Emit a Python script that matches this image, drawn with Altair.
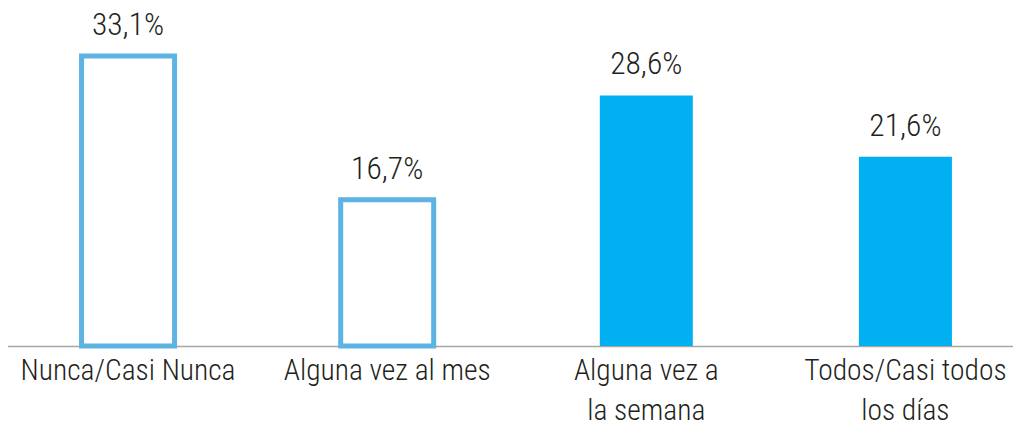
import altair as alt
import pandas as pd

categorias = ["Nunca/Casi Nunca", "Alguna vez al mes", "Alguna vez a\nla semana", "Todos/Casi todos\nlos días"]
valores = [33.1, 16.7, 28.6, 21.6]
etiquetas = ["33,1%", "16,7%", "28,6%", "21,6%"]
grupo = ["baja", "baja", "alta", "alta"]

df = pd.DataFrame({"cat": categorias, "valor": valores, "etiqueta": etiquetas, "grupo": grupo})

FONT = "Roboto Condensed, Roboto, sans-serif"
TXT = "#231F20"

x = alt.X("cat:N", sort=categorias, title=None,
          scale=alt.Scale(range=[-19.5, 1017], paddingInner=0, paddingOuter=0),
          axis=alt.Axis(labelAngle=0, ticks=False, domainColor="#A6A6A6", domainWidth=1.5,
                        labelFont=FONT, labelFontSize=29.5, labelFontWeight=300, labelColor=TXT,
                        labelPadding=10, labelLimit=0, labelLineHeight=40,
                        labelExpr="split(datum.label, '\\n')"))
y = alt.Y("valor:Q", title=None, axis=None, scale=alt.Scale(domain=[0, 38.58], nice=False))

base = alt.Chart(df)

hueco = base.transform_filter(alt.datum.grupo == "baja").mark_bar(
    size=93, fill="white", stroke="#5DB3E4", strokeWidth=5).encode(x=x, y=y)
lleno = base.transform_filter(alt.datum.grupo == "alta").mark_bar(
    size=93, color="#00B0F0").encode(x=x, y=y)
texto = base.mark_text(font=FONT, fontSize=31.5, fontWeight=300, color=TXT,
                       baseline="alphabetic", dy=-21).encode(
    x=x, y=y, text="etiqueta:N")

chart = alt.layer(hueco, lleno, texto).properties(
    width=985, height=338,
    autosize=alt.AutoSizeParams(type="none"),
    padding={"left": 10, "top": 0, "right": 10, "bottom": 83},
).configure_view(stroke=None)

chart.save("out.html", embed_options={"renderer": "svg", "actions": False})
